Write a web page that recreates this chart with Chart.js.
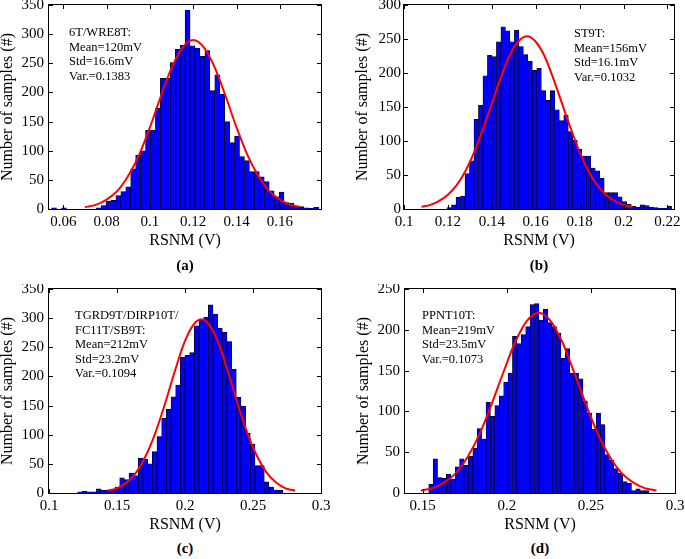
<!DOCTYPE html>
<html>
<head>
<meta charset="utf-8">
<script src="https://cdn.jsdelivr.net/npm/chart.js@4/dist/chart.umd.min.js"></script>
<style>
  body { margin: 0; width: 685px; height: 559px; background: #fff; position: relative; overflow: hidden;
         font-family: "Liberation Serif", "Times New Roman", serif; color: #000; }
  canvas { position: absolute; }
  .note { position: absolute; font-size: 12.5px; line-height: 14.6px; white-space: nowrap; }
  .cap { position: absolute; font-size: 15px; line-height: 18px; font-weight: bold; transform: translateX(-50%); }
  .frame { position: absolute; box-sizing: border-box; border: 1.5px solid #000; }
  .tick { position: absolute; background: #000; }
</style>
</head>
<body>
<canvas id="ca" width="340" height="250" style="left:0;top:0"></canvas>
<canvas id="cb" width="330" height="250" style="left:355px;top:0"></canvas>
<canvas id="cc" width="340" height="250" style="left:0;top:284px"></canvas>
<canvas id="cd" width="329" height="250" style="left:356px;top:284px"></canvas>

<div class="note" id="na" style="left:69px;top:25px"></div>
<div class="note" id="nb" style="left:574px;top:26px"></div>
<div class="note" id="nc" style="left:75px;top:308px"></div>
<div class="note" id="nd" style="left:422px;top:308px"></div>

<div class="cap" style="left:185px;top:256px">(a)</div>
<div class="cap" style="left:539px;top:256px">(b)</div>
<div class="cap" style="left:185px;top:539px">(c)</div>
<div class="cap" style="left:540px;top:539px">(d)</div>

<script>
// (a) 6T/WRE8T
const A_BIN_START = 0.05458;
const A_BIN_WIDTH = 0.002284;
const A_COUNTS = [2, 0, 2, 0, 0, 0, 0, 0, 0, 2,
  6, 13, 15, 23, 30, 38, 69, 92, 100, 135,
  135, 173, 224, 224, 251, 274, 281, 341, 280, 276,
  262, 272, 203, 230, 197, 150, 114, 125, 90, 83,
  64, 64, 55, 47, 31, 21, 29, 11, 10, 4,
  4, 2, 1, 3];
const A_FIT_X = [0.070, 0.075, 0.080, 0.085, 0.090, 0.095, 0.100, 0.105, 0.110, 0.115, 0.120,
  0.125, 0.130, 0.135, 0.140, 0.145, 0.150, 0.155, 0.160, 0.165, 0.169];
const A_FIT_Y = [3, 7, 16, 31, 57, 93, 140, 193, 242, 277, 290,
  277, 242, 193, 140, 93, 57, 31, 16, 7, 4];
const A_X_TICKS = [0.06, 0.08, 0.1, 0.12, 0.14, 0.16];
const A_Y_TICKS = [0, 50, 100, 150, 200, 250, 300, 350];
const A_NOTE = ['6T/WRE8T:', 'Mean=120mV', 'Std=16.6mV', 'Var.=0.1383'];

// (b) ST9T
const B_BIN_START = 0.1196;
const B_BIN_WIDTH = 0.002046;
const B_COUNTS = [2, 6, 17, 19, 52, 71, 132, 153, 196, 226,
  224, 246, 268, 262, 246, 263, 239, 227, 217, 204,
  207, 174, 160, 174, 146, 130, 138, 114, 101, 88,
  78, 78, 60, 56, 45, 24, 24, 24, 18, 11,
  7, 4, 3, 6, 5, 3, 2, 1, 1, 4];
const B_FIT_X = [0.108, 0.112, 0.116, 0.120, 0.124, 0.128, 0.132, 0.136, 0.140, 0.144, 0.148, 0.152, 0.156,
  0.160, 0.164, 0.168, 0.172, 0.176, 0.180, 0.184, 0.188, 0.192, 0.196, 0.200, 0.204];
const B_FIT_Y = [3, 6, 12, 21, 35, 56, 84, 118, 155, 192, 225, 246, 254,
  246, 225, 192, 155, 118, 84, 56, 35, 21, 12, 6, 3];
const B_X_TICKS = [0.1, 0.12, 0.14, 0.16, 0.18, 0.2, 0.22];
const B_Y_TICKS = [0, 50, 100, 150, 200, 250, 300];
const B_NOTE = ['ST9T:', 'Mean=156mV', 'Std=16.1mV', 'Var.=0.1032'];

// (c) TGRD9T/DIRP10T/FC11T/SB9T
const C_BIN_START = 0.1211;
const C_BIN_WIDTH = 0.00343;
const C_COUNTS = [2, 3, 2, 2, 7, 5, 5, 6, 10, 26,
  23, 34, 30, 60, 58, 50, 71, 97, 128, 144,
  165, 185, 233, 236, 241, 287, 297, 302, 323, 307,
  283, 276, 260, 212, 164, 149, 103, 84, 47, 47,
  19, 10, 5, 5];
const C_FIT_X = [0.143, 0.150, 0.157, 0.164, 0.171, 0.178, 0.185, 0.192, 0.199, 0.206, 0.212,
  0.218, 0.225, 0.232, 0.239, 0.246, 0.253, 0.260, 0.267, 0.274, 0.281];
const C_FIT_Y = [4, 8, 18, 35, 63, 102, 151, 205, 255, 288, 298,
  288, 255, 205, 151, 102, 63, 35, 18, 8, 4];
const C_X_TICKS = [0.1, 0.15, 0.2, 0.25, 0.3];
const C_Y_TICKS = [0, 50, 100, 150, 200, 250, 300, 350];
const C_NOTE = ['TGRD9T/DIRP10T/', 'FC11T/SB9T:', 'Mean=212mV', 'Std=23.2mV', 'Var.=0.1094'];

// (d) PPNT10T
const D_BIN_START = 0.1536;
const D_BIN_WIDTH = 0.00262;
const D_COUNTS = [11, 42, 19, 18, 23, 17, 32, 42, 34, 45,
  55, 79, 66, 111, 94, 107, 119, 136, 147, 192,
  183, 194, 204, 231, 232, 212, 225, 209, 204, 196,
  165, 177, 147, 147, 140, 113, 98, 78, 98, 84,
  47, 40, 30, 24, 14, 12, 3, 5, 3, 3];
const D_FIT_X = [0.149, 0.156, 0.163, 0.170, 0.177, 0.184, 0.191, 0.198, 0.205, 0.212, 0.219,
  0.226, 0.233, 0.240, 0.247, 0.254, 0.261, 0.268, 0.275, 0.282, 0.289];
const D_FIT_Y = [3, 6, 13, 25, 45, 73, 109, 148, 185, 211, 221,
  211, 185, 148, 109, 73, 45, 25, 13, 6, 3];
const D_X_TICKS = [0.15, 0.2, 0.25, 0.3];
const D_Y_TICKS = [0, 50, 100, 150, 200, 250];
const D_NOTE = ['PPNT10T:', 'Mean=219mV', 'Std=23.5mV', 'Var.=0.1073'];

const SERIF = "'Liberation Serif', 'Times New Roman', serif";

function histPanel(id, binStart, binWidth, counts, fitX, fitY, xMin, xMax, xTicks, yTicks, padRight, yLabelPad) {
  const yMax = yTicks[yTicks.length - 1];
  const bars = counts.map((c, i) => ({ x: binStart + (i + 0.5) * binWidth, y: c }));
  const fit = fitX.map((v, i) => ({ x: v, y: fitY[i] }));
  return new Chart(document.getElementById(id), {
    type: 'bar',
    data: {
      datasets: [
        { type: 'line', data: fit, borderColor: '#ff0000', borderWidth: 2, pointRadius: 0,
          cubicInterpolationMode: 'monotone', order: 0 },
        { type: 'bar', data: bars, backgroundColor: '#0000ff', borderColor: '#000000', borderWidth: 0.7,
          borderSkipped: 'start', barPercentage: 1, categoryPercentage: 1, order: 1 },
      ],
    },
    options: {
      responsive: false,
      animation: false,
      devicePixelRatio: 1,
      layout: { padding: { top: 5, right: padRight, bottom: 0, left: 0 } },
      plugins: { legend: { display: false }, tooltip: { enabled: false } },
      scales: {
        x: {
          type: 'linear', offset: false, min: xMin, max: xMax,
          grid: { display: false, drawTicks: false }, border: { display: false },
          afterBuildTicks: s => { s.ticks = xTicks.map(v => ({ value: v })); },
          afterFit: s => { s.height = 41; s.paddingLeft = 0; s.paddingRight = 0; },
          ticks: { autoSkip: false, maxRotation: 0, padding: 4, color: '#000',
                   font: { family: SERIF, size: 15 }, callback: v => String(v) },
          title: { display: true, text: 'RSNM (V)', color: '#000', font: { family: SERIF, size: 16 }, padding: 0 },
        },
        y: {
          min: 0, max: yMax,
          grid: { display: false, drawTicks: false }, border: { display: false },
          afterBuildTicks: s => { s.ticks = yTicks.map(v => ({ value: v })); },
          afterFit: s => { s.width = 49; s.paddingTop = 0; s.paddingBottom = 0; },
          ticks: { padding: yLabelPad, color: '#000', font: { family: SERIF, size: 15 }, callback: v => String(v) },
          title: { display: true, text: 'Number of samples (#)', color: '#000',
                   font: { family: SERIF, size: 16, lineHeight: 1 }, padding: { top: 0, bottom: 0 } },
        },
      },
    },
  });
}

// MATLAB-style box with inward ticks, placed from the chart's own area and scale pixels
function addBox(chart) {
  const cv = chart.canvas;
  const ox = cv.offsetLeft, oy = cv.offsetTop;
  const a = chart.chartArea;
  const xs = chart.scales.x, ys = chart.scales.y;
  const put = (cls, l, t, w, h) => {
    const d = document.createElement('div');
    d.className = cls;
    d.style.left = l + 'px'; d.style.top = t + 'px';
    d.style.width = w + 'px'; d.style.height = h + 'px';
    document.body.appendChild(d);
  };
  const t = 4;
  xs.ticks.forEach(tk => {
    const px = Math.round(xs.getPixelForValue(tk.value));
    put('tick', ox + px - 0.5, oy + a.bottom - t, 1, t);
    put('tick', ox + px - 0.5, oy + a.top, 1, t);
  });
  ys.ticks.forEach(tk => {
    const py = Math.round(ys.getPixelForValue(tk.value));
    put('tick', ox + a.left, oy + py - 0.5, t, 1);
    put('tick', ox + a.right - t, oy + py - 0.5, t, 1);
  });
  put('frame', ox + a.left - 0.75, oy + a.top - 0.75, a.right - a.left + 1.5, a.bottom - a.top + 1.5);
}

[
  histPanel('ca', A_BIN_START, A_BIN_WIDTH, A_COUNTS, A_FIT_X, A_FIT_Y, 0.0534, 0.179, A_X_TICKS, A_Y_TICKS, 19, 5),
  histPanel('cb', B_BIN_START, B_BIN_WIDTH, B_COUNTS, B_FIT_X, B_FIT_Y, 0.1, 0.2230, B_X_TICKS, B_Y_TICKS, 11, 3),
  histPanel('cc', C_BIN_START, C_BIN_WIDTH, C_COUNTS, C_FIT_X, C_FIT_Y, 0.1, 0.3, C_X_TICKS, C_Y_TICKS, 19, 5),
  histPanel('cd', D_BIN_START, D_BIN_WIDTH, D_COUNTS, D_FIT_X, D_FIT_Y, 0.1395, 0.3, D_X_TICKS, D_Y_TICKS, 10, 5),
].forEach(addBox);

[['na', A_NOTE], ['nb', B_NOTE], ['nc', C_NOTE], ['nd', D_NOTE]].forEach(([id, lines]) => {
  document.getElementById(id).innerHTML = lines.join('<br>');
});
</script>
</body>
</html>
